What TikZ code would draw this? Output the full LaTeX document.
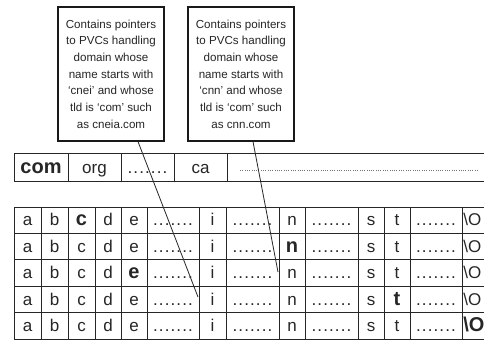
\documentclass[tikz,border=0pt]{standalone}
\usepackage{fontspec}
\setmainfont{Liberation Sans}
\newcommand\gridfont{\fontsize{17}{20}\selectfont}
\newcommand\boldgrid{\fontsize{20}{22}\selectfont\bfseries}
\newcommand\noteFont{\fontsize{11.6}{16.7}\selectfont}
\newcommand\sevendots{.\kern1.1pt.\kern1.1pt.\kern1.1pt.\kern1.1pt.\kern1.1pt.\kern1.1pt.}
\begin{document}
\begin{tikzpicture}[x=1pt,y=-1pt,
  note/.style={draw=black!90, line width=1.2pt, fill=white, minimum width=106pt, minimum height=134pt, inner sep=0pt, align=center, font=\noteFont, text=black!85},
  cell/.style={draw=black!85, line width=0.9pt, minimum height=26.3pt, inner sep=0pt, text height=14pt, text depth=2.7pt, text=black!85},
  tld/.style={draw=black!85, line width=0.9pt, minimum height=28pt, inner sep=0pt, text height=15pt, text depth=2.4pt, text=black!85},
  pointer/.style={draw=black!85, line width=0.8pt}]
\useasboundingbox (0,0) rectangle (484,341);
\fill[white] (0,0) rectangle (484,341);
% TLD row
\node[tld, minimum width=54pt, font=\boldgrid] (tcom) at (41,167) {com};
\node[tld, minimum width=53pt, font=\gridfont] (torg) at (94.5,167) {org};
\node[tld, minimum width=53pt, font=\gridfont] (tdots) at (147.5,167) {\sevendots};
\node[tld, minimum width=53pt, font=\gridfont] (tca) at (200.5,167) {ca};
\node[tld, minimum width=273pt] (trest) at (363.5,167) {};
\draw[black!55, line width=0.8pt, dash pattern=on 0.8pt off 1.5pt] (240,170) -- (477,170);
% grid
\foreach \r/\b in {1/3,2/9,3/5,4/12,5/14}{
  \pgfmathsetmacro{\yc}{207+26.4*(\r-1)+13.2}
  \foreach \c/\xa/\xb/\t in {1/14/41/a,2/41/68/b,3/68/95/c,4/95/121/d,5/121/147/e,6/147/199/\sevendots,7/199/226/i,8/226/279/\sevendots,9/279/305/n,10/305/358/\sevendots,11/358/384/s,12/384/410/t,13/410/462/\sevendots}{
    \pgfmathsetmacro{\xc}{(\xa+\xb)/2}
    \pgfmathsetmacro{\w}{\xb-\xa}
    \node[cell, minimum width=\w pt, font={\ifnum\c=\b\relax\boldgrid\else\gridfont\fi}] (r\r c\c) at (\xc,\yc) {\t};
  }
  \node[cell, minimum width=60pt, font={\ifnum14=\b\relax\boldgrid\else\gridfont\fi}] (r\r c14) at (492,\yc) {\makebox[58pt][l]{\hspace{0.3pt}\textbackslash O}};
}
% notes
\node[note] (n1) at (111,74) {Contains pointers\\to PVCs handling\\domain whose\\name starts with\\‘cnei’ and whose\\tld is ‘com’ such\\as cneia.com};
\node[note] (n2) at (241,74) {Contains pointers\\to PVCs handling\\domain whose\\name starts with\\‘cnn’ and whose\\tld is ‘com’ such\\as cnn.com};
\coordinate (p1) at (198,297);
\coordinate (p2) at (278,272);
\draw[pointer] ([xshift=27pt]n1.south) -- (p1);
\draw[pointer] ([xshift=12pt]n2.south) -- (p2);
\end{tikzpicture}
\end{document}
